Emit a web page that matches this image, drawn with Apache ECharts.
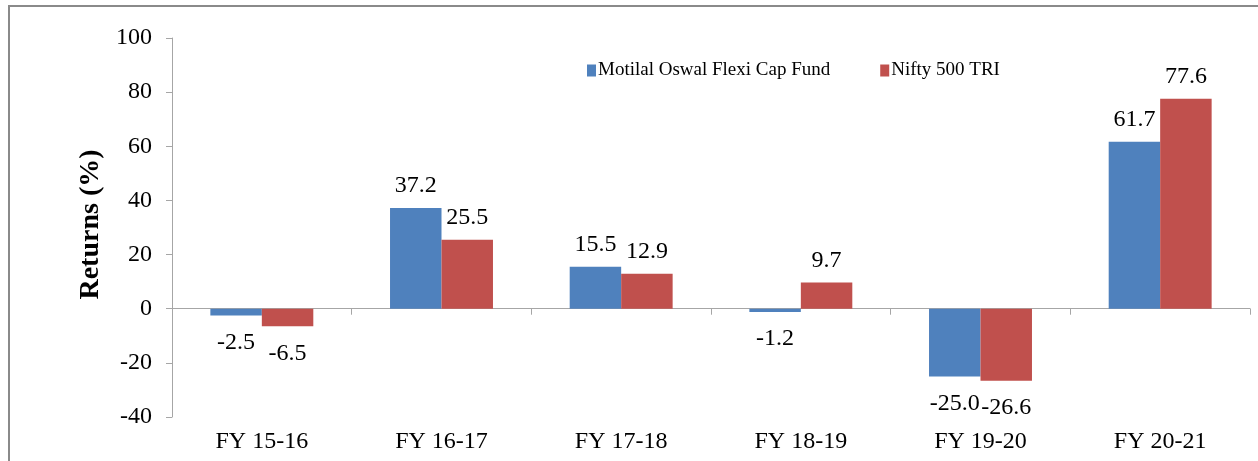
<!DOCTYPE html>
<html>
<head>
<meta charset="utf-8">
<title>Returns</title>
<script src="https://cdn.jsdelivr.net/npm/echarts@6/dist/echarts.min.js"></script>
<style>
    html, body { margin: 0; padding: 0; background: #fff; }
    #chart { width: 1258px; height: 461px; }
</style>
</head>
<body>
<div id="chart"></div>
<script>
// data
var years = ['FY 15-16', 'FY 16-17', 'FY 17-18', 'FY 18-19', 'FY 19-20', 'FY 20-21'];
var fundName = 'Motilal Oswal Flexi Cap Fund';
var indexName = 'Nifty 500 TRI';
var fundReturns = [-2.5, 37.2, 15.5, -1.2, -25.0, 61.7];
var indexReturns = [-6.5, 25.5, 12.9, 9.7, -26.6, 77.6];

var serif = '"Liberation Serif", "DejaVu Serif", serif';

// negative bars get their label underneath
function withLabels(values) {
    return values.map(function (v) {
        return {
            value: v,
            label: v < 0 ? { position: 'bottom', distance: 15 } : { position: 'top', distance: 10 }
        };
    });
}

var barLabel = {
    show: true,
    fontFamily: serif,
    fontSize: 24,
    color: '#000',
    formatter: function (p) { return p.value.toFixed(1); }
};

var chart = echarts.init(document.getElementById('chart'));

var option = {
    animation: false,
    backgroundColor: '#fff',
    graphic: [{
        type: 'rect',
        shape: { x: 9, y: 6, width: 1270, height: 480 },
        style: { fill: 'none', stroke: '#8a8a8a', lineWidth: 2 },
        silent: true
    }],
    legend: {
        left: 582,
        top: 56,
        itemWidth: 9,
        itemHeight: 12,
        itemGap: 50,
        icon: 'rect',
        textStyle: { fontFamily: serif, fontSize: 19, color: '#000', padding: [0, 0, 0, -3] },
        data: [fundName, indexName]
    },
    grid: { left: 172, right: 8, top: 38, bottom: 44 },
    xAxis: [{
        type: 'category',
        data: years,
        position: 'bottom',
        axisLine: { show: false, onZero: false },
        axisTick: { show: false },
        axisLabel: { margin: 13, fontFamily: serif, fontSize: 24, color: '#000' }
    }, {
        type: 'category',
        data: years,
        position: 'bottom',
        axisLine: { onZero: true, lineStyle: { color: '#a6a6a6', width: 1 } },
        axisTick: { show: true, length: 6, lineStyle: { color: '#a6a6a6' } },
        axisLabel: { show: false }
    }],
    yAxis: {
        type: 'value',
        min: -40,
        max: 100,
        interval: 20,
        name: 'Returns (%)',
        nameLocation: 'middle',
        nameGap: 62,
        nameTextStyle: { fontFamily: serif, fontSize: 28, fontWeight: 'bold', color: '#000', padding: [0, 0, 0, 6] },
        axisLine: { show: true, lineStyle: { color: '#a6a6a6' } },
        axisTick: { show: true, length: 6, lineStyle: { color: '#a6a6a6' } },
        axisLabel: { margin: 20, fontFamily: serif, fontSize: 24, color: '#000' },
        splitLine: { show: false }
    },
    series: [{
        name: fundName,
        type: 'bar',
        xAxisIndex: 0,
        data: withLabels(fundReturns),
        itemStyle: { color: '#4f81bd' },
        barGap: '0%',
        barCategoryGap: '42.7%',
        label: barLabel
    }, {
        name: indexName,
        type: 'bar',
        xAxisIndex: 0,
        data: withLabels(indexReturns),
        itemStyle: { color: '#c0504d' },
        label: barLabel
    }]
};

chart.setOption(option);
</script>
</body>
</html>
